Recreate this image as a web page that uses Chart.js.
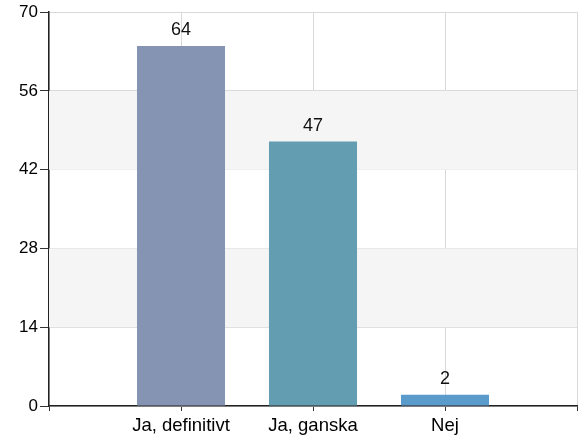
<!DOCTYPE html>
<html>
<head>
<meta charset="utf-8">
<script src="https://cdn.jsdelivr.net/npm/chart.js@4/dist/chart.umd.min.js"></script>
<style>
  html, body { margin: 0; padding: 0; background: #fff; }
  #wrap { width: 582px; height: 438px; }
</style>
</head>
<body>
<div id="wrap"><canvas id="barChart"></canvas></div>
<script>
// data
const categories = ['', 'Ja, definitivt', 'Ja, ganska', 'Nej', ''];
const values = [null, 64, 47, 2, null];
const barColors = ['#8594b3', '#8594b3', '#639db2', '#5b9bcb', '#5b9bcb'];
const yTicks = [0, 14, 28, 42, 56, 70];
const shadedBands = [[14, 28], [42, 56]];

const bandPlugin = {
    id: 'bands',
    beforeDatasetsDraw(chart) {
        const ctx = chart.ctx, area = chart.chartArea, y = chart.scales.y;
        ctx.save();
        ctx.fillStyle = '#f5f5f5';
        shadedBands.forEach(function(b) {
            const top = y.getPixelForValue(b[1]);
            const bottom = y.getPixelForValue(b[0]);
            ctx.fillRect(area.left, top, area.right - area.left, bottom - top);
        });
        ctx.restore();
    }
};

const valueLabels = {
    id: 'valueLabels',
    afterDatasetsDraw(chart) {
        const ctx = chart.ctx;
        const meta = chart.getDatasetMeta(0);
        ctx.save();
        ctx.font = '18px "Liberation Sans", Arial, sans-serif';
        ctx.fillStyle = '#111';
        ctx.textAlign = 'center';
        ctx.textBaseline = 'bottom';
        meta.data.forEach(function(bar, i) {
            if (values[i] == null) return;
            ctx.fillText(String(values[i]), bar.x, bar.y - 7);
        });
        ctx.restore();
    }
};

document.addEventListener("DOMContentLoaded", function() {
    Chart.defaults.font.family = '"Liberation Sans", Arial, sans-serif';
    Chart.defaults.font.size = 17;
    Chart.defaults.color = '#111';

    const barCtx = document.getElementById('barChart').getContext('2d');
    new Chart(barCtx, {
        type: 'bar',
        data: {
            labels: categories,
            datasets: [{
                data: values,
                backgroundColor: barColors,
                categoryPercentage: 1,
                barPercentage: 0.667
            }]
        },
        options: {
            responsive: true,
            maintainAspectRatio: false,
            animation: false,
            layout: { padding: { top: 5, right: 5, left: 0, bottom: 0 } },
            plugins: { legend: { display: false }, tooltip: { enabled: false } },
            scales: {
                x: {
                    offset: false,
                    grid: { color: '#d9d9d9', tickColor: '#333', tickLength: 5, offset: false },
                    border: { color: '#222', width: 1.5 },
                    ticks: { padding: 4, maxRotation: 0, autoSkip: false, color: '#000', font: { size: 18.5 } },
                    afterFit: function(scale) { scale.height = 32; }
                },
                y: {
                    min: 0,
                    max: 70,
                    afterBuildTicks: function(scale) {
                        scale.ticks = yTicks.map(function(v) { return { value: v }; });
                    },
                    grid: { color: '#d9d9d9', tickColor: '#333', tickLength: 9 },
                    border: { color: '#222', width: 1.5 },
                    ticks: { padding: 2, color: '#000' },
                    afterFit: function(scale) { scale.width = 49; }
                }
            }
        },
        plugins: [bandPlugin, valueLabels]
    });
});
</script>
</body>
</html>
